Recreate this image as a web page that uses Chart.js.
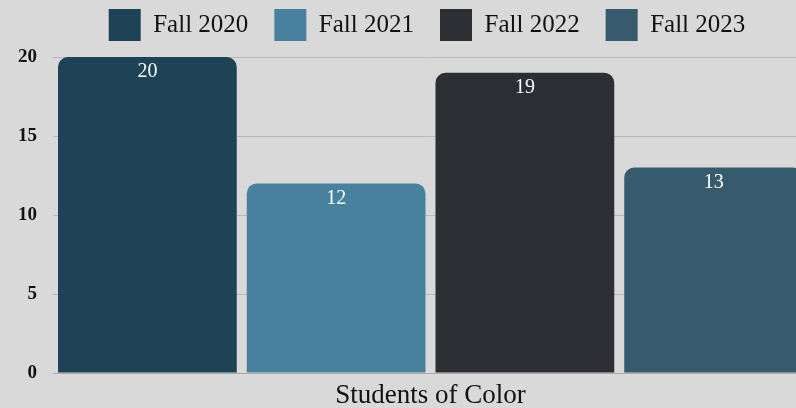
<!DOCTYPE html>
<html>
<head>
<meta charset="utf-8">
<script src="https://cdn.jsdelivr.net/npm/chart.js@4/dist/chart.umd.min.js"></script>
<style>
  html, body { margin: 0; padding: 0; background: #d9d9d9; overflow: hidden; }
  #chart { display: block; }
</style>
</head>
<body>
<canvas id="chart" width="854" height="408"></canvas>
<script>
// Chart data
const categories = ['Students of Color'];
const seriesNames = ['Fall 2020', 'Fall 2021', 'Fall 2022', 'Fall 2023'];
const seriesValues = [[20], [12], [19], [13]];
const seriesColors = ['#1e4356', '#47819d', '#2b2f33', '#375b6d'];
const yTicks = [0, 5, 10, 15, 20];

const FONT = '"Liberation Serif", "DejaVu Serif", serif';

// Value labels drawn inside the top of each bar
const barLabels = {
    id: 'barLabels',
    afterDatasetsDraw(chart) {
        const ctx = chart.ctx;
        ctx.save();
        ctx.fillStyle = '#ffffff';
        ctx.font = '20px ' + FONT;
        ctx.textAlign = 'center';
        ctx.textBaseline = 'middle';
        chart.data.datasets.forEach((ds, i) => {
            chart.getDatasetMeta(i).data.forEach((bar, j) => {
                ctx.fillText(String(ds.data[j]), bar.x, bar.y + 15);
            });
        });
        ctx.restore();
    }
};

// Extra space under the legend, and centre it over the whole canvas
const legendGap = {
    id: 'legendGap',
    beforeInit(chart) {
        const fit = chart.legend.fit;
        chart.legend.fit = function () {
            fit.bind(chart.legend)();
            this.height += 6;
        };
    },
    beforeDraw(chart) {
        const lg = chart.legend;
        const shift = (chart.width - (lg.right - lg.left)) / 2 - lg.left;
        lg.left += shift;
        lg.right += shift;
    }
};

new Chart(document.getElementById('chart'), {
    type: 'bar',
    data: {
        labels: categories,
        datasets: seriesNames.map((name, i) => ({
            label: name,
            data: seriesValues[i],
            backgroundColor: seriesColors[i],
            borderRadius: 10,
            borderSkipped: 'start',
            categoryPercentage: 1.0,
            barPercentage: 0.947
        }))
    },
    options: {
        responsive: false,
        animation: false,
        layout: { autoPadding: false, padding: { left: 0, right: 46, top: -17, bottom: 0 } },
        plugins: {
            legend: {
                position: 'top',
                labels: {
                    color: '#111',
                    boxWidth: 32,
                    boxHeight: 32,
                    padding: 26,
                    font: { family: FONT, size: 25 }
                }
            },
            tooltip: { enabled: false }
        },
        scales: {
            x: {
                grid: { display: false, drawTicks: false },
                border: { display: true, color: '#a9a9a9' },
                afterFit(axis) { axis.height = 35; },
                ticks: { color: '#111', font: { family: FONT, size: 27 }, padding: 7 }
            },
            y: {
                min: 0,
                max: 20,
                afterBuildTicks(axis) { axis.ticks = yTicks.map(v => ({ value: v })); },
                afterFit(axis) { axis.width = 53; },
                grid: { color: '#b9b9b9', drawTicks: false },
                border: { display: false },
                ticks: { color: '#111', font: { family: FONT, size: 19, weight: 'bold' }, padding: 16 }
            }
        }
    },
    plugins: [barLabels, legendGap]
});
</script>
</body>
</html>
